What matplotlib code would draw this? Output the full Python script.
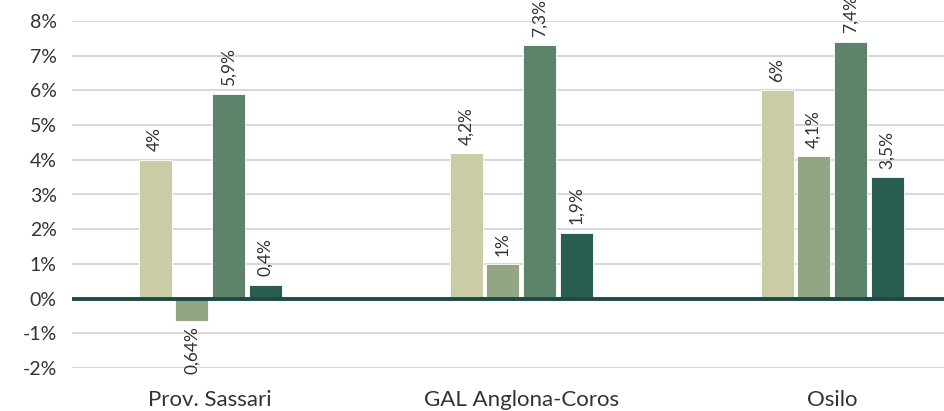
import matplotlib
matplotlib.use('Agg')
import matplotlib.pyplot as plt
import numpy as np

# areas on the x axis
categories = ['Prov. Sassari', 'GAL Anglona-Coros', 'Osilo']
# four series of percentage changes, one bar each per area
serie_1 = [4.0, 4.2, 6.0]
serie_2 = [-0.64, 1.0, 4.1]
serie_3 = [5.9, 7.3, 7.4]
serie_4 = [0.4, 1.9, 3.5]
yticks = [-2, -1, 0, 1, 2, 3, 4, 5, 6, 7, 8]

colors = ['#C9CCA4', '#93A683', '#5D836A', '#2B5E52']
text_col = '#333333'

plt.rcParams['font.family'] = ['Lato', 'DejaVu Sans']

fig = plt.figure(figsize=(9.45, 4.11), dpi=100)
ax = fig.add_axes([72 / 945, 43 / 411, 1 - 72 / 945, 347 / 411])

x = np.arange(len(categories))
width = 0.106
step = 0.118
series = [serie_1, serie_2, serie_3, serie_4]

# grid behind everything
for t in yticks:
    ax.axhline(t, color='#D9D9D9', lw=1.5, zorder=0)

for i, vals in enumerate(series):
    pos = x + (i - 1.5) * step
    ax.bar(pos, vals, width=width, color=colors[i], edgecolor='white',
           linewidth=0.6, zorder=2)
    for p, v in zip(pos, vals):
        lab = f"{abs(v):g}".replace('.', ',') + '%'
        if v >= 0:
            ax.annotate(lab, (p, v), xytext=(0, 6), textcoords='offset points',
                        rotation=90, ha='center', va='bottom', fontsize=12.5,
                        color=text_col, annotation_clip=False)
        else:
            ax.annotate(lab, (p, v), xytext=(0, -4), textcoords='offset points',
                        rotation=90, ha='center', va='top', fontsize=12.5,
                        color=text_col, annotation_clip=False)

# thick zero line
ax.axhline(0, color='#1E4A45', lw=2.8, zorder=3)

ax.set_xlim(-0.444, 2.363)
ax.set_ylim(-2, 8)
ax.set_yticks(yticks)
ax.set_yticklabels([f'{t}%' for t in yticks], fontsize=14, color=text_col)
ax.set_xticks(x)
ax.set_xticklabels(categories, fontsize=16, color=text_col)
ax.tick_params(axis='both', length=0)
ax.tick_params(axis='y', pad=11)
ax.tick_params(axis='x', pad=16)
for s in ax.spines.values():
    s.set_visible(False)

fig.savefig('out.png', dpi=100)
